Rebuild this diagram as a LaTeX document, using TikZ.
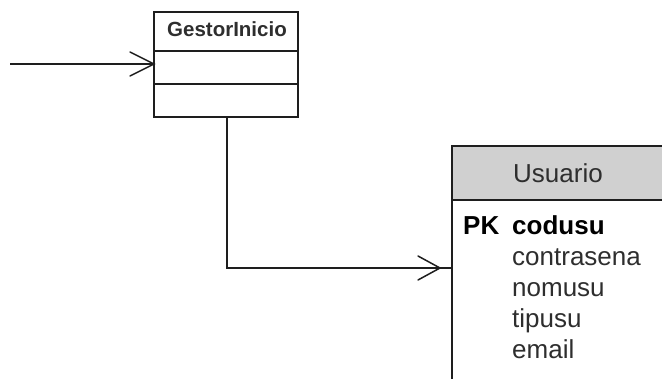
\documentclass[tikz,border=0pt]{standalone}
\usepackage{fontspec}
\setmainfont{Liberation Sans}
\usetikzlibrary{calc}
\definecolor{linec}{HTML}{1E1E1E}
\definecolor{headfill}{HTML}{D0D0D0}
\definecolor{txt}{HTML}{2E2E2E}
\tikzset{
  umlline/.style={draw=linec, line width=1.6pt},
  conn/.style={draw=linec, line width=1.5pt},
  barb/.style={draw=linec, line width=1.5pt, line cap=round, line join=miter},
  attr/.style={anchor=base west, inner sep=0pt, font=\fontsize{26}{26}\selectfont, text=txt},
  keyattr/.style={anchor=base west, inner sep=0pt, font=\fontsize{26}{26}\selectfont\bfseries, text=black},
}
\begin{document}
\begin{tikzpicture}[x=1pt,y=-1pt]
\useasboundingbox (0,0) rectangle (662,378);

% --- class GestorInicio ---
\coordinate (gTL) at (154,12);
\coordinate (gBR) at (298,117);
\draw[umlline] (gTL) rectangle (gBR);
\draw[umlline] (154,51) -- (298,51);
\draw[umlline] (154,84) -- (298,84);
\node[inner sep=0pt, anchor=base, font=\fontsize{20.5}{20.5}\selectfont\bfseries, text=txt]
  (gname) at (227,36) {GestorInicio};
\coordinate (gIn) at (154,64);
\coordinate (gOut) at (227,117);

% --- table Usuario ---
\fill[headfill] (452,146) rectangle (672,200);
\draw[umlline] (672,146) -- (452,146) -- (452,390);
\draw[umlline] (452,200) -- (672,200);
\node[inner sep=0pt, anchor=base, font=\fontsize{26}{26}\selectfont, text=txt]
  (uname) at (558,182) {Usuario};
\node[keyattr] (pk) at (463,234) {PK};
\node[keyattr] (a1) at (512,234) {codusu};
\node[attr] (a2) at (512,265) {contrasena};
\node[attr] (a3) at (512,296) {nomusu};
\node[attr] (a4) at (512,327) {tipusu};
\node[attr] (a5) at (512,358) {email};
\coordinate (uIn) at (452,268);

% --- incoming message ---
\coordinate (start) at (10,64);
\draw[conn] (start) -- (gIn);
\draw[barb] ($(gIn)+(-24,-12)$) -- (gIn) -- ($(gIn)+(-24,12)$);

% --- association GestorInicio -> Usuario ---
\draw[conn] (gOut) |- (uIn);
\coordinate (tip) at ($(uIn)+(-12,0)$);
\draw[barb] ($(tip)+(-22,-12)$) -- (tip) -- ($(tip)+(-22,12)$);
\end{tikzpicture}
\end{document}
